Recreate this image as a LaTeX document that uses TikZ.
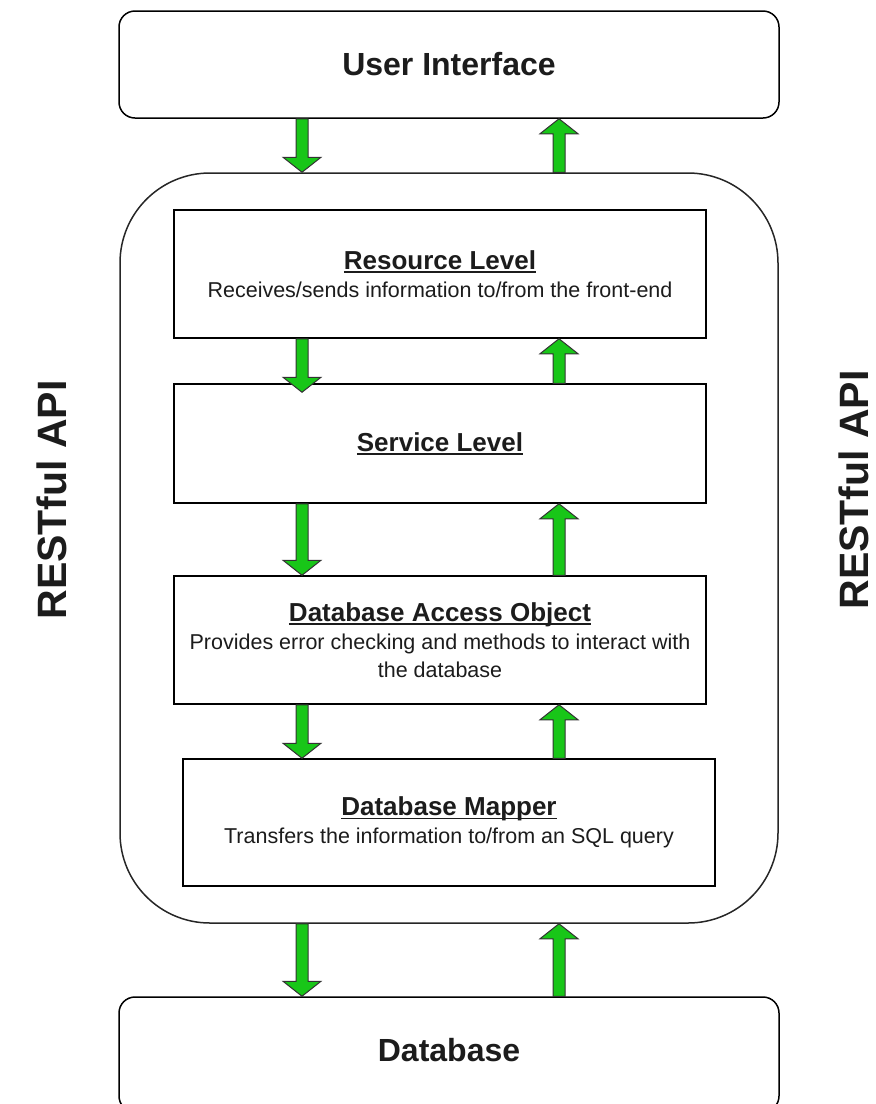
\documentclass[tikz,border=0pt]{standalone}
\usepackage{fontspec}
\setmainfont{Liberation Sans}
\usetikzlibrary{calc}

\definecolor{flowgreen}{RGB}{24,198,24}
\definecolor{inkgray}{RGB}{28,28,28}

% underlined layer title with a rule just below the baseline
\newcommand{\ulined}[1]{\sbox0{#1}\rlap{\rule[-3.5pt]{\wd0}{1.6pt}}\usebox0}
\newcommand{\layertitle}[1]{{\bfseries\fontsize{26}{28}\selectfont\ulined{#1}}}

\begin{document}
\begin{tikzpicture}[x=1pt,y=-1pt,
  endbox/.style={draw=black, line width=1.5pt, fill=white, rounded corners=16pt,
    minimum width=660pt, inner sep=0pt, text=inkgray,
    font=\bfseries\fontsize{32}{36}\selectfont},
  apibox/.style={draw=black!85, line width=1.5pt, fill=white, rounded corners=90pt,
    minimum width=658pt, minimum height=750pt, inner sep=0pt},
  layerbox/.style={draw=black, line width=1.5pt, fill=white, minimum width=532pt,
    inner sep=0pt, align=center, text=inkgray,
    font=\fontsize{21.5}{28}\selectfont},
  sidelabel/.style={rotate=90, text=inkgray, inner sep=0pt,
    font=\bfseries\fontsize{41}{46}\selectfont},
  blockarrow/.style={draw=black!80, line width=1pt, fill=flowgreen, line join=miter,
    to path={let \p1=(\tikztostart), \p2=(\tikztotarget),
      \n1={ifthenelse(\y2>\y1,1,-1)} in
      ({\x1-6pt},{\y1}) -- ({\x1+6pt},{\y1}) -- ({\x1+6pt},{\y2-(\n1)*15pt})
      -- ({\x1+19pt},{\y2-(\n1)*15pt}) -- ({\x1},{\y2})
      -- ({\x1-19pt},{\y2-(\n1)*15pt}) -- ({\x1-6pt},{\y2-(\n1)*15pt}) -- cycle}}
]
\useasboundingbox (0,0) rectangle (876,1104);

% outer tiers
\node[endbox, minimum height=107pt] (ui) at (449,64.5) {User Interface};
\node[endbox, minimum height=115pt, text height=23pt, text depth=9pt] (db) at (449,1054.5) {Database};

% RESTful API container
\node[apibox] (api) at (449,548) {};

% layers inside the API
\node[layerbox, minimum height=128pt] (res) at (440,274)
  {\layertitle{Resource Level}\\Receives/sends information to/from the front-end};
\node[layerbox, minimum height=119pt] (svc) at (440,443.5)
  {\layertitle{Service Level}};
\node[layerbox, minimum height=128pt] (dao) at (440,640)
  {\layertitle{Database Access Object}\\Provides error checking and methods to interact with\\the database};
\node[layerbox, minimum height=127pt] (map) at (449,822.5)
  {\layertitle{Database Mapper}\\Transfers the information to/from an SQL query};

% side labels
\node[sidelabel] (restL) at (52,500) {RESTful API};
\node[sidelabel] (restR) at (854,490) {RESTful API};

% columns for the request (down) and response (up) arrows
\coordinate (colL) at (302,0);
\coordinate (colR) at (559,0);

% requests flowing down
\draw[blockarrow] (ui.south -| colL) to (api.north -| colL);
\draw[blockarrow] (res.south -| colL) to ($(svc.north -| colL)+(0,9)$);
\draw[blockarrow] (svc.south -| colL) to (dao.north -| colL);
\draw[blockarrow] (dao.south -| colL) to (map.north -| colL);
\draw[blockarrow] (api.south -| colL) to (db.north -| colL);

% responses flowing up
\draw[blockarrow] (api.north -| colR) to (ui.south -| colR);
\draw[blockarrow] (svc.north -| colR) to (res.south -| colR);
\draw[blockarrow] (dao.north -| colR) to (svc.south -| colR);
\draw[blockarrow] (map.north -| colR) to (dao.south -| colR);
\draw[blockarrow] (db.north -| colR) to (api.south -| colR);
\end{tikzpicture}
\end{document}
